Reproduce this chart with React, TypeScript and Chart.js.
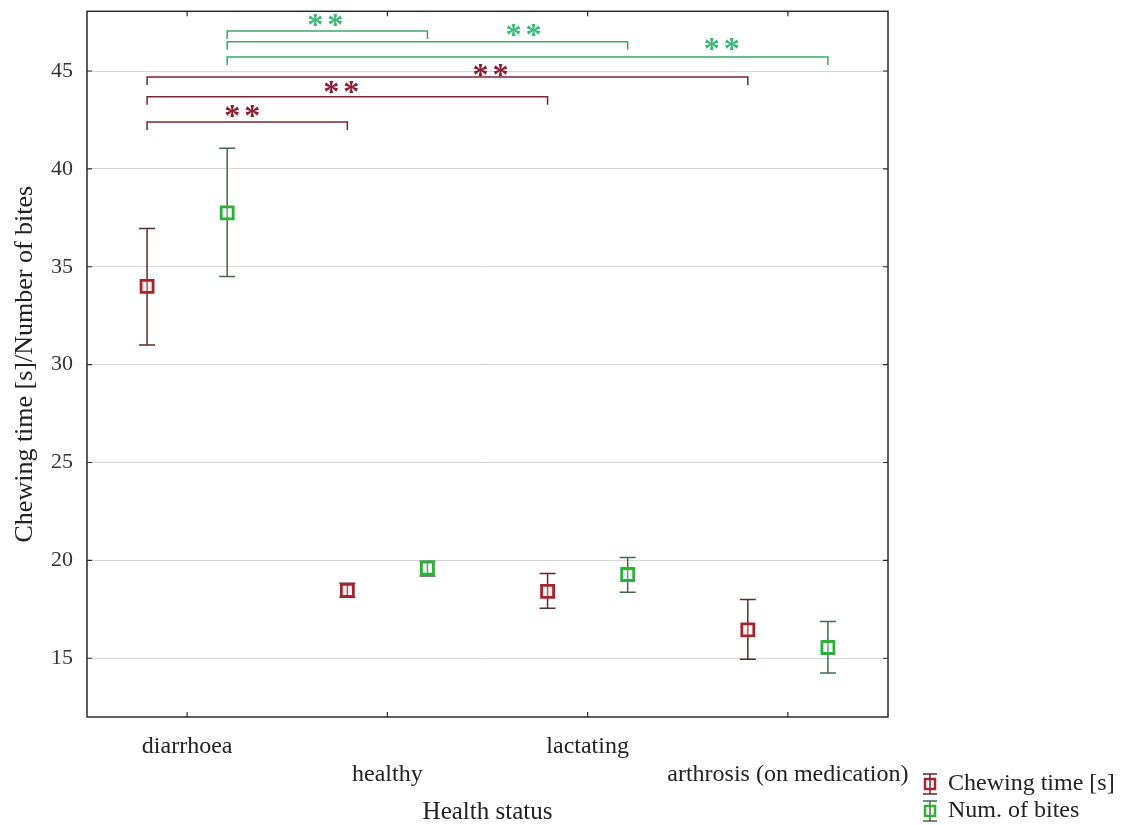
import React, { useEffect, useRef } from 'react';
import { Chart, registerables } from 'chart.js';

Chart.register(...registerables);

// ---------- data ----------
const categories = ['diarrhoea', 'healthy', 'lactating', 'arthrosis (on medication)'];
const seriesNames = ['Chewing time [s]', 'Num. of bites'];

const chewMean = [34.0, 18.47, 18.42, 16.45];
const chewLow = [31.0, 18.12, 17.55, 14.95];
const chewHigh = [36.95, 18.83, 19.33, 18.0];

const bitesMean = [37.75, 19.6, 19.28, 15.55];
const bitesLow = [34.5, 19.2, 18.37, 14.25];
const bitesHigh = [41.05, 19.95, 20.15, 16.88];

const yTicks = [15, 20, 25, 30, 35, 40, 45];

// significance brackets (series index: 0 = chewing time, 1 = bites)
const bracketSeries = [1, 1, 1, 0, 0, 0];
const bracketFrom = [0, 0, 0, 0, 0, 0];
const bracketTo = [1, 2, 3, 3, 2, 1];
const bracketLevel = [47.05, 46.5, 45.72, 44.7, 43.68, 42.4];
const bracketLabel = ['**', '**', '**', '**', '**', '**'];
const bracketLabelX = [0.69, 1.68, 2.67, 1.515, 0.77, 0.275];
const bracketLabelLevel = [47.6, 47.09, 46.37, 45.05, 44.19, 42.97];

// ---------- styles ----------
const SERIF = '"Liberation Serif", "Times New Roman", serif';
const OFFSET = 0.2;
const markerColors = ['#a3262e', '#2fae3a'];
const markerFill = ['rgba(245,215,215,0.35)', 'rgba(215,245,215,0.35)'];
const barColors = ['#5e2a2f', '#3f6b48'];
const bracketColors = ['#7b2433', '#3aa86a'];
const starColors = ['#8a1f33', '#3cb878'];

const overlayPlugin = {
  id: 'overlay',
  beforeDatasetsDraw(chart: any) {
    const { ctx } = chart;
    const x = chart.scales.x;
    const y = chart.scales.y;
    chart.data.datasets.forEach((ds: any, di: number) => {
      ctx.save();
      ctx.strokeStyle = barColors[di];
      ctx.lineWidth = 1.5;
      ds.data.forEach((p: any, i: number) => {
        const px = x.getPixelForValue(p.x);
        const yl = y.getPixelForValue(ds.errLow[i]);
        const yh = y.getPixelForValue(ds.errHigh[i]);
        ctx.beginPath();
        ctx.moveTo(px, yh);
        ctx.lineTo(px, yl);
        ctx.moveTo(px - 8, yh);
        ctx.lineTo(px + 8, yh);
        ctx.moveTo(px - 8, yl);
        ctx.lineTo(px + 8, yl);
        ctx.stroke();
      });
      ctx.restore();
    });
  },
  afterDatasetsDraw(chart: any) {
    const { ctx } = chart;
    const x = chart.scales.x;
    const y = chart.scales.y;
    bracketLevel.forEach((lvl, b) => {
      const s = bracketSeries[b];
      const off = s === 0 ? -OFFSET : OFFSET;
      const x1 = x.getPixelForValue(bracketFrom[b] + off);
      const x2 = x.getPixelForValue(bracketTo[b] + off);
      const py = y.getPixelForValue(lvl);
      ctx.save();
      ctx.strokeStyle = bracketColors[s];
      ctx.lineWidth = 1.5;
      ctx.beginPath();
      ctx.moveTo(x1, py + 8);
      ctx.lineTo(x1, py);
      ctx.lineTo(x2, py);
      ctx.lineTo(x2, py + 8);
      ctx.stroke();
      // stars
      ctx.fillStyle = starColors[s];
      ctx.font = 'bold 32px ' + SERIF;
      ctx.textAlign = 'center';
      ctx.textBaseline = 'alphabetic';
      const cx = x.getPixelForValue(bracketLabelX[b]);
      const cy = y.getPixelForValue(bracketLabelLevel[b]);
      const m = ctx.measureText('*');
      const yc = cy + (m.actualBoundingBoxAscent - m.actualBoundingBoxDescent) / 2;
      const chars = bracketLabel[b].split('');
      chars.forEach((c, k) => {
        const dx = (k - (chars.length - 1) / 2) * 20;
        ctx.fillText(c, cx + dx, yc);
      });
      ctx.restore();
    });
  },
  afterDraw(chart: any) {
    const { ctx, chartArea } = chart;
    const x = chart.scales.x;
    const y = chart.scales.y;
    const { left, right, top, bottom } = chartArea;
    ctx.save();
    ctx.strokeStyle = '#2a2a2a';
    ctx.lineWidth = 1.5;
    ctx.strokeRect(left, top, right - left, bottom - top);
    ctx.lineWidth = 1.2;
    ctx.beginPath();
    categories.forEach((_, i) => {
      const px = x.getPixelForValue(i);
      ctx.moveTo(px, bottom);
      ctx.lineTo(px, bottom - 5);
      ctx.moveTo(px, top);
      ctx.lineTo(px, top + 5);
    });
    yTicks.forEach((v) => {
      const py = y.getPixelForValue(v);
      ctx.moveTo(left, py);
      ctx.lineTo(left + 5, py);
      ctx.moveTo(right, py);
      ctx.lineTo(right - 5, py);
    });
    ctx.stroke();
    ctx.restore();

    // legend (bottom right)
    const rows = [784, 811];
    const iconX = 930;
    chart.data.datasets.forEach((ds: any, di: number) => {
      const cy = rows[di];
      ctx.save();
      ctx.strokeStyle = barColors[di];
      ctx.lineWidth = 1.5;
      ctx.beginPath();
      ctx.moveTo(iconX - 7, cy - 10);
      ctx.lineTo(iconX + 7, cy - 10);
      ctx.moveTo(iconX, cy - 10);
      ctx.lineTo(iconX, cy + 10);
      ctx.moveTo(iconX - 7, cy + 10);
      ctx.lineTo(iconX + 7, cy + 10);
      ctx.stroke();
      ctx.strokeStyle = markerColors[di];
      ctx.lineWidth = 2.5;
      ctx.strokeRect(iconX - 5, cy - 5, 10, 10);
      ctx.fillStyle = '#222';
      ctx.font = '24px ' + SERIF;
      ctx.textAlign = 'left';
      ctx.textBaseline = 'middle';
      ctx.fillText(ds.label, 948, cy);
      ctx.restore();
    });
  },
};

export default function App() {
  const ref = useRef<HTMLCanvasElement | null>(null);

  useEffect(() => {
    if (!ref.current) return;
    const mk = (mean: number[], low: number[], high: number[], off: number, si: number) => ({
      label: seriesNames[si],
      data: mean.map((v, i) => ({ x: i + off, y: v })),
      errLow: low,
      errHigh: high,
      pointStyle: 'rect',
      pointRadius: 8.5,
      pointHoverRadius: 8.5,
      borderWidth: 2.8,
      borderColor: markerColors[si],
      backgroundColor: markerFill[si],
      showLine: false,
    });

    const chart = new Chart(ref.current, {
      type: 'scatter',
      data: {
        datasets: [
          mk(chewMean, chewLow, chewHigh, -OFFSET, 0),
          mk(bitesMean, bitesLow, bitesHigh, OFFSET, 1),
        ] as any,
      },
      options: {
        animation: false,
        responsive: false,
        devicePixelRatio: 1,
        layout: { padding: { top: 9, right: 239, left: 0, bottom: 0 } },
        plugins: {
          legend: { display: false },
          tooltip: { enabled: false },
        },
        scales: {
          x: {
            type: 'linear',
            min: -0.5,
            max: 3.5,
            afterBuildTicks: (s: any) => {
              s.ticks = categories.map((_, i) => ({ value: i }));
            },
            afterFit: (s: any) => {
              s.height = 108;
              s.paddingLeft = 0;
              s.paddingRight = 0;
            },
            grid: { display: false, drawTicks: false },
            border: { display: false },
            ticks: {
              autoSkip: false,
              maxRotation: 0,
              minRotation: 0,
              padding: 16,
              color: '#222',
              font: { family: SERIF, size: 24, lineHeight: 28 / 24 },
              callback: (v: any) => {
                const i = Math.round(Number(v));
                return i % 2 ? ['', categories[i]] : categories[i];
              },
            },
            title: {
              display: true,
              text: 'Health status',
              color: '#222',
              font: { family: SERIF, size: 25, lineHeight: 1 },
              padding: 0,
            },
          },
          y: {
            min: 12.0,
            max: 48.05,
            afterBuildTicks: (s: any) => {
              s.ticks = yTicks.map((v) => ({ value: v }));
            },
            afterFit: (s: any) => {
              s.width = 87;
              s.paddingTop = 0;
              s.paddingBottom = 0;
            },
            grid: { color: '#d6d6d6', lineWidth: 1, drawTicks: false },
            border: { display: false },
            ticks: {
              padding: 14,
              color: '#333',
              font: { family: SERIF, size: 22 },
            },
            title: {
              display: true,
              text: 'Chewing time [s]/Number of bites',
              color: '#222',
              font: { family: SERIF, size: 26, lineHeight: 1 },
              padding: { top: 12, bottom: 0 },
            },
          },
        },
      } as any,
      plugins: [overlayPlugin],
    });
    return () => chart.destroy();
  }, []);

  return (
    <div style={{ position: 'absolute', left: 0, top: 0, width: 1127, height: 825, background: '#fff' }}>
      <canvas ref={ref} width={1127} height={825} style={{ display: 'block' }} />
    </div>
  );
}
